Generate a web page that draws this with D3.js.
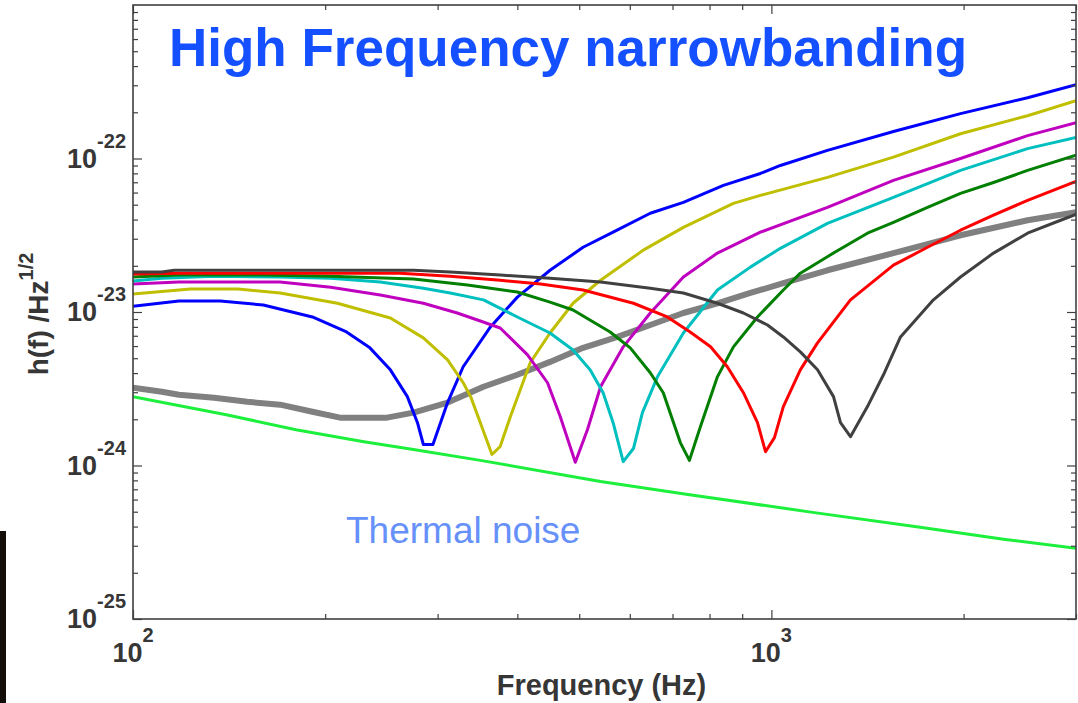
<!DOCTYPE html>
<html>
<head>
<meta charset="utf-8">
<script src="https://cdn.jsdelivr.net/npm/d3@7"></script>
<style>
  body { margin: 0; background: #fff; }
  text { font-family: "Liberation Sans", Arial, Helvetica, sans-serif; }
</style>
</head>
<body>
<div id="graph"></div>
<script>
// ---- data (frequency in Hz, strain in 1/sqrt(Hz)) ----
var thermalFreq = [100, 140, 180, 230, 275, 350, 540, 740, 1160, 1710, 2310, 3000];
var thermalH = [2.81e-24, 2.14e-24, 1.71e-24, 1.43e-24, 1.27e-24, 1.08e-24, 7.87e-25, 6.48e-25, 4.95e-25, 3.96e-25, 3.31e-25, 2.89e-25];

var refFreq = [100, 111, 118, 134, 151, 170, 191, 211, 250, 275, 311, 354, 400, 450, 507, 574, 646, 728, 823, 927, 1044, 1224, 1553, 1978, 2519, 3000];
var refH = [3.21e-24, 3.02e-24, 2.89e-24, 2.76e-24, 2.60e-24, 2.49e-24, 2.24e-24, 2.05e-24, 2.05e-24, 2.21e-24, 2.57e-24, 3.26e-24, 3.90e-24, 4.73e-24, 5.84e-24, 6.88e-24, 8.23e-24, 9.85e-24, 1.14e-23, 1.33e-23, 1.54e-23, 1.87e-23, 2.42e-23, 3.16e-23, 3.96e-23, 4.46e-23];

var blueFreq = [100, 118, 137, 160, 191, 216, 235, 253, 269, 279, 285, 295, 311, 329, 363, 400, 450, 507, 565, 646, 728, 841, 961, 1033, 1224, 1553, 1978, 2519, 3000];
var blueH = [1.09e-23, 1.18e-23, 1.18e-23, 1.11e-23, 9.28e-24, 7.41e-24, 5.84e-24, 4.20e-24, 2.81e-24, 1.90e-24, 1.37e-24, 1.37e-24, 2.57e-24, 4.40e-24, 7.99e-24, 1.25e-23, 1.87e-23, 2.64e-23, 3.31e-23, 4.40e-23, 5.18e-23, 6.68e-23, 7.99e-23, 9.01e-23, 1.13e-22, 1.50e-22, 1.96e-22, 2.49e-22, 3.02e-22];

var yellowFreq = [100, 123, 146, 170, 209, 253, 285, 311, 329, 338, 350, 365, 376, 390, 419, 450, 489, 540, 630, 728, 872, 961, 1224, 1553, 1978, 2519, 3000];
var yellowH = [1.31e-23, 1.41e-23, 1.41e-23, 1.33e-23, 1.14e-23, 9.14e-24, 6.78e-24, 4.88e-24, 3.46e-24, 2.81e-24, 1.90e-24, 1.18e-24, 1.33e-24, 2.08e-24, 4.67e-24, 7.30e-24, 1.14e-23, 1.61e-23, 2.53e-23, 3.56e-23, 5.10e-23, 5.75e-23, 7.53e-23, 1.02e-22, 1.45e-22, 1.90e-22, 2.38e-22];

var magentaFreq = [100, 118, 170, 204, 244, 285, 322, 350, 376, 415, 446, 467, 493, 515, 540, 586, 646, 728, 823, 961, 1224, 1553, 1978, 2519, 3000];
var magentaH = [1.52e-23, 1.57e-23, 1.57e-23, 1.45e-23, 1.29e-23, 1.14e-23, 9.85e-24, 8.74e-24, 7.87e-24, 5.26e-24, 3.46e-24, 2.08e-24, 1.05e-24, 1.71e-24, 3.26e-24, 5.93e-24, 9.85e-24, 1.69e-23, 2.42e-23, 3.31e-23, 4.81e-23, 7.20e-23, 1.00e-22, 1.41e-22, 1.71e-22];

var cyanFreq = [100, 111, 134, 170, 204, 244, 285, 314, 354, 400, 450, 489, 520, 545, 565, 586, 608, 628, 663, 728, 823, 927, 1033, 1224, 1553, 1978, 2519, 3000];
var cyanH = [1.59e-23, 1.66e-23, 1.71e-23, 1.69e-23, 1.66e-23, 1.57e-23, 1.43e-23, 1.33e-23, 1.20e-23, 9.28e-24, 7.30e-24, 5.66e-24, 4.20e-24, 2.98e-24, 1.90e-24, 1.06e-24, 1.29e-24, 2.21e-24, 3.78e-24, 7.30e-24, 1.39e-23, 1.96e-23, 2.60e-23, 3.78e-23, 5.58e-23, 8.36e-23, 1.16e-22, 1.37e-22];

var greenFreq = [100, 118, 160, 204, 275, 334, 400, 450, 489, 526, 559, 601, 646, 677, 720, 744, 774, 823, 872, 951, 1044, 1110, 1251, 1414, 1553, 1756, 1978, 2228, 2519, 3000];
var greenH = [1.69e-23, 1.74e-23, 1.74e-23, 1.71e-23, 1.64e-23, 1.50e-23, 1.35e-23, 1.16e-23, 1.03e-23, 8.61e-24, 7.41e-24, 5.84e-24, 4.02e-24, 2.98e-24, 1.41e-24, 1.08e-24, 1.79e-24, 3.78e-24, 5.93e-24, 9.28e-24, 1.39e-23, 1.79e-23, 2.42e-23, 3.26e-23, 3.84e-23, 4.81e-23, 5.93e-23, 6.98e-23, 8.36e-23, 1.05e-22];

var redFreq = [100, 118, 181, 262, 314, 376, 435, 507, 608, 687, 746, 803, 853, 904, 951, 979, 1011, 1044, 1110, 1181, 1330, 1553, 1756, 1978, 2228, 2519, 3000];
var redH = [1.77e-23, 1.79e-23, 1.79e-23, 1.79e-23, 1.71e-23, 1.61e-23, 1.52e-23, 1.39e-23, 1.14e-23, 9.28e-24, 7.41e-24, 5.93e-24, 4.40e-24, 2.98e-24, 1.90e-24, 1.23e-24, 1.52e-24, 2.42e-24, 4.20e-24, 6.29e-24, 1.20e-23, 2.02e-23, 2.64e-23, 3.41e-23, 4.27e-23, 5.34e-23, 7.09e-23];

var blackFreq = [100, 111, 116, 275, 314, 376, 450, 540, 646, 728, 823, 904, 986, 1044, 1110, 1181, 1251, 1283, 1330, 1414, 1498, 1593, 1794, 1978, 2228, 2519, 2838, 3000];
var blackH = [1.82e-23, 1.82e-23, 1.87e-23, 1.87e-23, 1.82e-23, 1.74e-23, 1.66e-23, 1.57e-23, 1.43e-23, 1.33e-23, 1.14e-23, 9.85e-24, 8.23e-24, 6.88e-24, 5.50e-24, 4.20e-24, 2.81e-24, 1.90e-24, 1.54e-24, 2.42e-24, 3.90e-24, 6.88e-24, 1.20e-23, 1.69e-23, 2.42e-23, 3.26e-23, 3.96e-23, 4.33e-23];

var xMajor = [100, 1000],
    xExp = ["2", "3"],
    yMajor = [1e-25, 1e-24, 1e-23, 1e-22],
    yExp = ["-25", "-24", "-23", "-22"];

// ---- layout ----
var margin = {top: 5, right: 2, bottom: 84, left: 133},
    width = 1078 - margin.left - margin.right,
    height = 703 - margin.top - margin.bottom;

var axisColor = "#404040",
    labelColor = "#363636";

var root = d3.select("#graph").append("svg")
    .attr("width", 1078)
    .attr("height", 703);

// dark strip left over from the slide
root.append("rect")
    .attr("x", 0).attr("y", 531)
    .attr("width", 6).attr("height", 172)
    .attr("fill", "#140e0b");

var svg = root.append("g")
    .attr("transform", "translate(" + margin.left + "," + margin.top + ")");

var x = d3.scaleLog().domain([100, 3000]).range([0, width]),
    y = d3.scaleLog().domain([1e-25, 1e-21]).range([height, 0]);

function isMajor(d) {
  var e = Math.log10(d);
  return Math.abs(e - Math.round(e)) < 1e-6;
}

var xMinor = x.ticks().filter(function(d) { return !isMajor(d); }),
    yMinor = y.ticks().filter(function(d) { return !isMajor(d); });

svg.append("clipPath").attr("id", "plot-clip")
  .append("rect").attr("width", width).attr("height", height);

// ---- curves ----
var line = d3.line()
    .x(function(d) { return x(d[0]); })
    .y(function(d) { return y(d[1]); });

var curves = [
  {f: thermalFreq, h: thermalH, color: "#1cef3c", w: 3},
  {f: refFreq, h: refH, color: "#808080", w: 6},
  {f: blueFreq, h: blueH, color: "#0000ff", w: 3},
  {f: yellowFreq, h: yellowH, color: "#bfbf00", w: 3},
  {f: magentaFreq, h: magentaH, color: "#bf00bf", w: 3},
  {f: cyanFreq, h: cyanH, color: "#00bfbf", w: 3},
  {f: greenFreq, h: greenH, color: "#007f00", w: 3},
  {f: redFreq, h: redH, color: "#ff0000", w: 3},
  {f: blackFreq, h: blackH, color: "#404040", w: 3}
];

svg.append("g")
    .attr("clip-path", "url(#plot-clip)")
  .selectAll("path")
  .data(curves)
  .enter().append("path")
    .attr("d", function(c) { return line(d3.zip(c.f, c.h)); })
    .attr("fill", "none")
    .attr("stroke", function(c) { return c.color; })
    .attr("stroke-width", function(c) { return c.w; })
    .attr("stroke-linejoin", "round");

// ---- axes: inward ticks on all four sides ----
function tickAxis(axis, values, size) {
  return axis.tickValues(values).tickSizeInner(-size).tickSizeOuter(0).tickFormat("");
}

var axes = [
  {a: d3.axisLeft(y), t: ""},
  {a: d3.axisRight(y), t: "translate(" + width + ",0)"},
  {a: d3.axisBottom(x), t: "translate(0," + height + ")"},
  {a: d3.axisTop(x), t: ""}
];

axes.forEach(function(ax, i) {
  var isY = i < 2;
  [[isY ? yMinor : xMinor, 5], [isY ? yMajor : xMajor, 9]].forEach(function(set) {
    var g = svg.append("g")
        .attr("transform", ax.t)
        .call(tickAxis(ax.a, set[0], set[1]));
    g.select(".domain").remove();
    g.selectAll("line").attr("stroke", axisColor).attr("stroke-width", 1.2);
  });
});

svg.append("rect")
    .attr("width", width)
    .attr("height", height)
    .attr("fill", "none")
    .attr("stroke", axisColor)
    .attr("stroke-width", 1.6);

// ---- tick labels as 10^n ----
var yLabels = svg.selectAll(".ylab")
    .data(yMajor)
  .enter().append("text")
    .attr("class", "ylab")
    .attr("x", -7)
    .attr("y", function(d) { return y(d) + 9; })
    .attr("text-anchor", "end")
    .attr("font-weight", "bold")
    .attr("fill", labelColor);
yLabels.append("tspan").attr("font-size", 27).text("10");
yLabels.append("tspan").attr("font-size", 20).attr("dy", -20)
    .text(function(d, i) { return yExp[i]; });

var xLabels = svg.selectAll(".xlab")
    .data(xMajor)
  .enter().append("text")
    .attr("class", "xlab")
    .attr("x", function(d) { return x(d); })
    .attr("y", height + 43)
    .attr("text-anchor", "middle")
    .attr("font-weight", "bold")
    .attr("fill", labelColor);
xLabels.append("tspan").attr("font-size", 27).text("10");
xLabels.append("tspan").attr("font-size", 20).attr("dy", -20)
    .text(function(d, i) { return xExp[i]; });

// ---- axis titles ----
svg.append("text")
    .attr("x", width / 2 - 3)
    .attr("y", height + 76)
    .attr("text-anchor", "middle")
    .attr("font-size", 29)
    .attr("font-weight", "bold")
    .attr("fill", labelColor)
    .text("Frequency (Hz)");

var yTitle = root.append("text")
    .attr("transform", "translate(48," + (margin.top + height / 2 + 2) + ") rotate(-90)")
    .attr("text-anchor", "middle")
    .attr("font-weight", "bold")
    .attr("fill", labelColor);
yTitle.append("tspan").attr("font-size", 28).text("h(f) /Hz");
yTitle.append("tspan").attr("font-size", 20).attr("dy", -15).text("1/2");

// ---- annotations ----
root.append("text")
    .attr("x", 169)
    .attr("y", 66)
    .attr("font-size", 53)
    .attr("font-weight", "bold")
    .attr("fill", "#1450ff")
    .text("High Frequency narrowbanding");

root.append("text")
    .attr("x", 346)
    .attr("y", 543)
    .attr("font-size", 37)
    .attr("fill", "#6690fa")
    .text("Thermal noise");
</script>
</body>
</html>
